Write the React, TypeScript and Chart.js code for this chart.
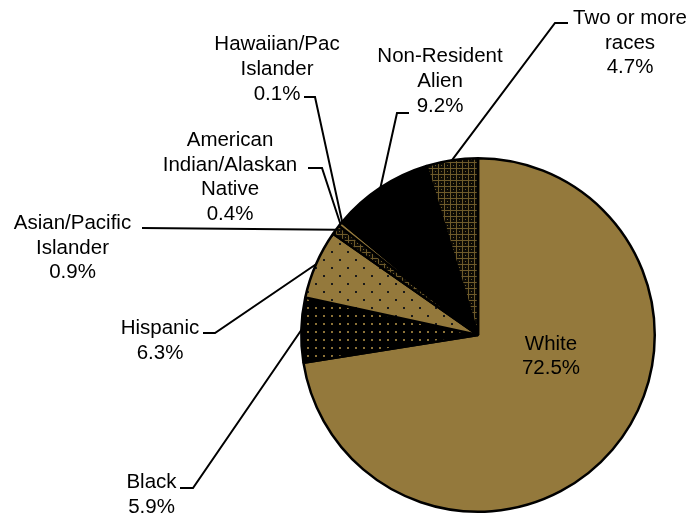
import React, { useEffect, useRef } from "react";
import { Chart, registerables } from "chart.js";

Chart.register(...registerables);

// ---- data ----
const categories = [
  "White",
  "Black",
  "Hispanic",
  "Asian/Pacific Islander",
  "American Indian/Alaskan Native",
  "Hawaiian/Pac Islander",
  "Non-Resident Alien",
  "Two or more races",
];
const shares = [72.5, 5.9, 6.3, 0.9, 0.4, 0.1, 9.2, 4.7];
const nameLines = [
  ["White"],
  ["Black"],
  ["Hispanic"],
  ["Asian/Pacific", "Islander"],
  ["American", "Indian/Alaskan", "Native"],
  ["Hawaiian/Pac", "Islander"],
  ["Non-Resident", "Alien"],
  ["Two or more", "races"],
];

// ---- layout (label centers / leader elbows, pixels) ----
const labelLayout = [
  { x: 551, y: 342.5, lh: 24.5, leader: null },
  { x: 151.5, y: 481, lh: 25, leader: [[180, 488], [193, 488]] },
  { x: 160, y: 327, lh: 25, leader: [[203, 333], [215, 333]] },
  { x: 72.5, y: 222, lh: 24.5, leader: [[142, 228]] },
  { x: 230, y: 139, lh: 24.4, leader: [[308, 168], [322, 168]] },
  { x: 277, y: 43, lh: 24.7, leader: [[304, 97], [315, 97]] },
  { x: 440, y: 55, lh: 24.6, leader: [[409, 113], [397, 113]] },
  { x: 630, y: 16.5, lh: 24.7, leader: [[568, 23], [555, 23]] },
];

const BROWN = "rgb(148,121,60)";
const FONT_SIZE = 20.5;

function makeTile(size: number, draw: (c: CanvasRenderingContext2D) => void) {
  const cv = document.createElement("canvas");
  cv.width = size;
  cv.height = size;
  const c = cv.getContext("2d")!;
  draw(c);
  const ctx = document.createElement("canvas").getContext("2d")!;
  return ctx.createPattern(cv, "repeat")!;
}

function makeFills() {
  const blackDots = makeTile(8, (c) => {
    c.fillStyle = "#000";
    c.fillRect(0, 0, 8, 8);
    c.fillStyle = "rgb(140,114,55)";
    c.fillRect(3, 3, 2, 2);
  });
  const brownDots = makeTile(16, (c) => {
    c.fillStyle = BROWN;
    c.fillRect(0, 0, 16, 16);
    c.fillStyle = "#1a1a1a";
    c.fillRect(3, 3, 2, 2);
    c.fillRect(11, 11, 2, 2);
  });
  const lattice = makeTile(6, (c) => {
    c.fillStyle = "#0d0b05";
    c.fillRect(0, 0, 6, 6);
    c.fillStyle = "rgb(110,90,42)";
    c.fillRect(0, 0, 6, 1);
    c.fillRect(0, 0, 1, 6);
    c.fillRect(3, 3, 1, 1);
  });
  return [BROWN, blackDots, brownDots, lattice, BROWN, "#000", "#000", lattice];
}

const labelPlugin = {
  id: "pieLabels",
  afterDatasetsDraw(chart: any) {
    const ctx: CanvasRenderingContext2D = chart.ctx;
    const meta = chart.getDatasetMeta(0);
    ctx.save();
    ctx.strokeStyle = "#000";
    ctx.lineWidth = 2;
    ctx.lineJoin = "miter";
    labelLayout.forEach((lay, i) => {
      if (!lay.leader) return;
      const arc = meta.data[i] as any;
      const p = arc.getProps(["x", "y", "startAngle", "endAngle", "outerRadius"], true);
      const mid = (p.startAngle + p.endAngle) / 2;
      const ex = p.x + Math.cos(mid) * p.outerRadius;
      const ey = p.y + Math.sin(mid) * p.outerRadius;
      ctx.beginPath();
      ctx.moveTo(lay.leader[0][0], lay.leader[0][1]);
      for (let k = 1; k < lay.leader.length; k++) ctx.lineTo(lay.leader[k][0], lay.leader[k][1]);
      ctx.lineTo(ex, ey);
      ctx.stroke();
    });
    ctx.fillStyle = "#000";
    ctx.font = `${FONT_SIZE}px "Liberation Sans", Arial, sans-serif`;
    ctx.textAlign = "center";
    ctx.textBaseline = "alphabetic";
    labelLayout.forEach((lay, i) => {
      const lines = [...nameLines[i], `${shares[i].toFixed(1)}%`];
      lines.forEach((t, k) => {
        ctx.fillText(t, lay.x, lay.y + k * lay.lh + FONT_SIZE * 0.358);
      });
    });
    ctx.restore();
  },
};

export default function App() {
  const ref = useRef<HTMLCanvasElement>(null);
  useEffect(() => {
    document.body.style.margin = "0";
    const chart = new Chart(ref.current!, {
      type: "pie",
      data: {
        labels: categories,
        datasets: [
          {
            data: shares,
            backgroundColor: makeFills() as any,
            borderColor: "#000",
            borderWidth: 2.5,
          },
        ],
      },
      options: {
        animation: false,
        responsive: false,
        maintainAspectRatio: false,
        layout: { padding: { left: 300, right: 38, top: 156, bottom: 8 } },
        plugins: { legend: { display: false }, tooltip: { enabled: false } },
      },
      plugins: [labelPlugin],
    });
    return () => chart.destroy();
  }, []);
  return (
    <div style={{ position: "fixed", left: 0, top: 0, width: 694, height: 522, background: "#fff" }}>
      <canvas ref={ref} width={694} height={522} />
    </div>
  );
}
